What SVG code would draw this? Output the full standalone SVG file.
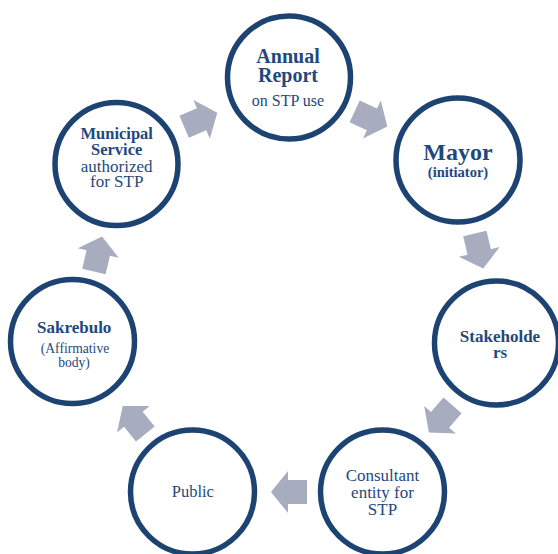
<svg xmlns="http://www.w3.org/2000/svg" width="558" height="554" viewBox="0 0 558 554">
  <defs>
    <style>
      .ring { fill: #ffffff; stroke: #1d4372; stroke-width: 5.5; }
      .flow { fill: #a7adbe; stroke: none; }
      text { font-family: "Liberation Serif", "Times New Roman", serif; fill: #1f497d; text-anchor: middle; }
      .b { font-weight: bold; }
    </style>
    <!-- block arrow, centred on the origin, pointing along +x -->
    <path id="blk" d="M18,0 L1,-21 L1,-12 L-18,-12 L-18,12 L1,12 L1,21 Z"/>
  </defs>

  <rect width="558" height="554" fill="#ffffff"/>

  <g id="connectors">
    <use href="#blk" class="flow" transform="translate(200.7,119.7) rotate(-23)"/>
    <use href="#blk" class="flow" transform="translate(371,119) rotate(25)"/>
    <use href="#blk" class="flow" transform="translate(479,251) rotate(76.6)"/>
    <use href="#blk" class="flow" transform="translate(440.7,419) rotate(131)"/>
    <use href="#blk" class="flow" transform="translate(289,492) rotate(180)"/>
    <use href="#blk" class="flow" transform="translate(134,420) rotate(231)"/>
    <use href="#blk" class="flow" transform="translate(98,254) rotate(-77)"/>
  </g>

  <g id="annual-report">
    <circle class="ring" cx="289" cy="77.5" r="61.5"/>
    <text class="b" x="288" y="62.5" font-size="20">Annual</text>
    <text class="b" x="288" y="81.5" font-size="20">Report</text>
    <text x="288" y="106" font-size="16">on STP use</text>
  </g>

  <g id="mayor">
    <circle class="ring" cx="458" cy="160" r="62"/>
    <text class="b" x="458" y="160" font-size="24">Mayor</text>
    <text class="b" x="458" y="176.5" font-size="14.5">(initiator)</text>
  </g>

  <g id="stakeholders">
    <circle class="ring" cx="496.5" cy="343" r="62"/>
    <text class="b" x="500" y="341.5" font-size="17">Stakeholde</text>
    <text class="b" x="500" y="357.5" font-size="17">rs</text>
  </g>

  <g id="consultant">
    <circle class="ring" cx="382.5" cy="492" r="62"/>
    <text x="382.5" y="480.5" font-size="17">Consultant</text>
    <text x="382.5" y="498" font-size="17">entity for</text>
    <text x="382.5" y="515" font-size="17">STP</text>
  </g>

  <g id="public">
    <circle class="ring" cx="192.5" cy="492" r="62"/>
    <text x="192.8" y="497.3" font-size="16.5">Public</text>
  </g>

  <g id="sakrebulo">
    <circle class="ring" cx="72.5" cy="341.5" r="62"/>
    <text class="b" x="74.2" y="333.3" font-size="17">Sakrebulo</text>
    <text x="75" y="353.3" font-size="13.6">(Affirmative</text>
    <text x="74" y="366.7" font-size="13.6">body)</text>
  </g>

  <g id="municipal-service">
    <circle class="ring" cx="116.5" cy="164" r="61.5"/>
    <text class="b" x="116.7" y="139.3" font-size="16.5">Municipal</text>
    <text class="b" x="116.7" y="155" font-size="16.5">Service</text>
    <text x="116.7" y="171.7" font-size="17">authorized</text>
    <text x="116.7" y="186.7" font-size="17">for STP</text>
  </g>
</svg>
